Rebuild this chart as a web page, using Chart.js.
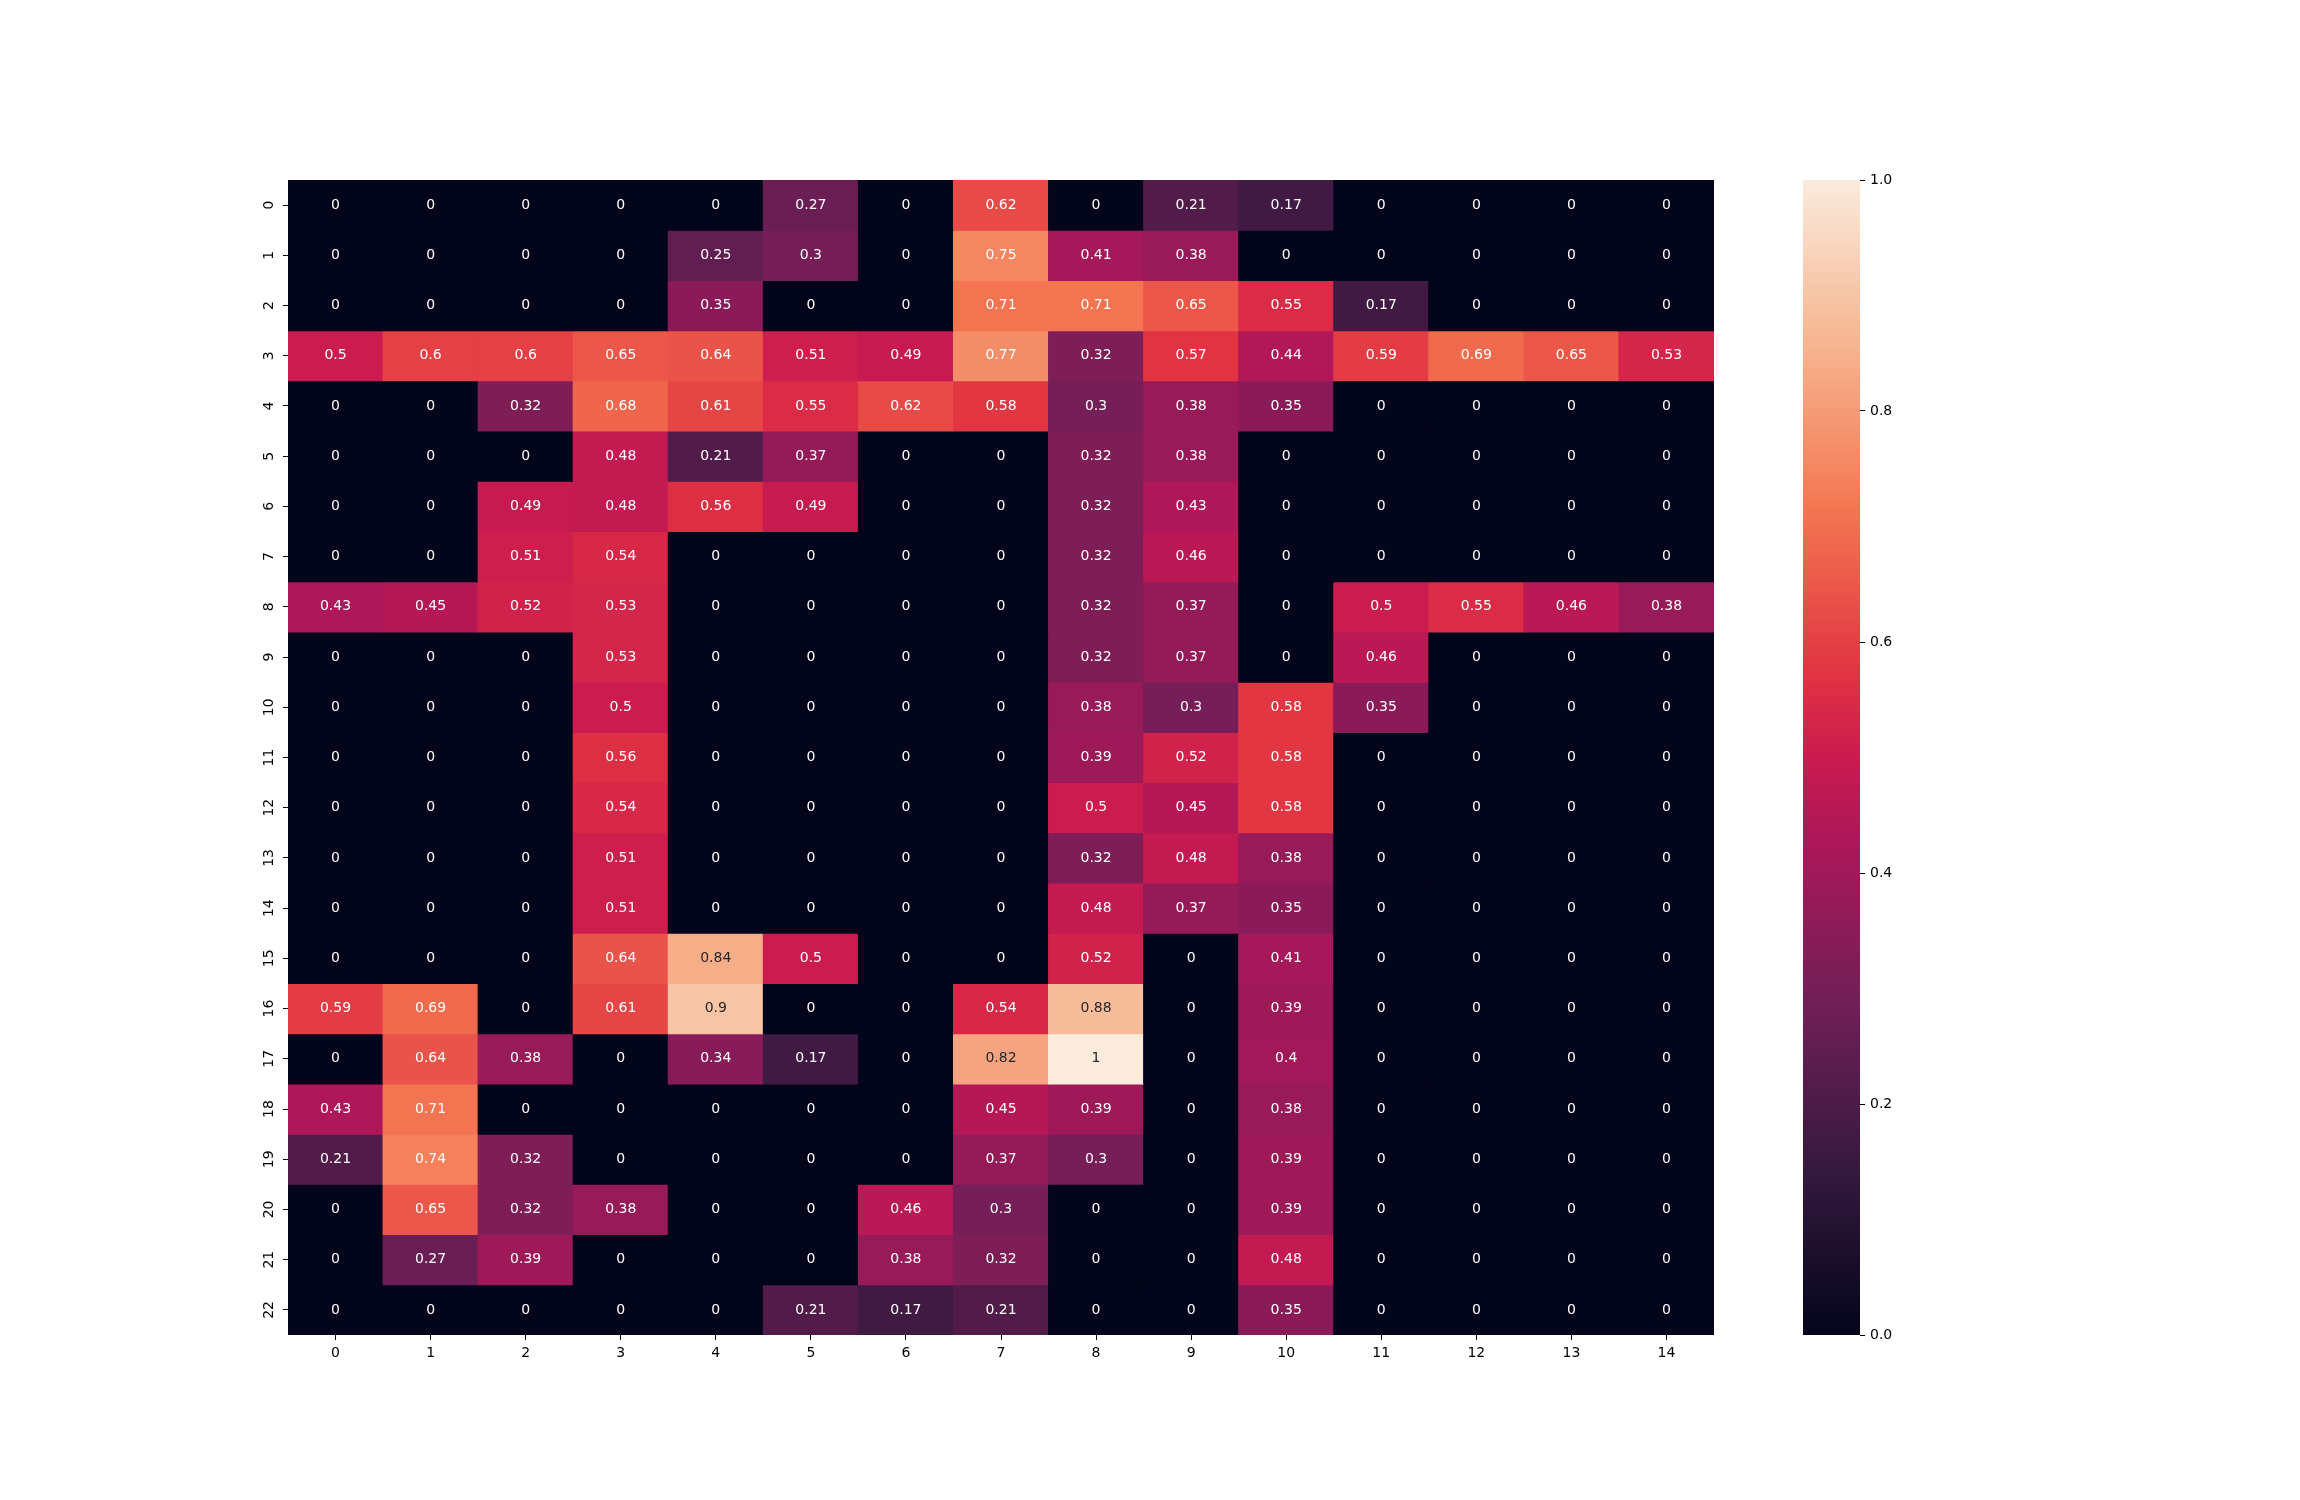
<!DOCTYPE html>
<html>
<head>
<meta charset="utf-8">
<script src="https://cdn.jsdelivr.net/npm/chart.js@4"></script>
<style>
    html, body { margin: 0; padding: 0; background: #fff; }
    #wrap { position: relative; width: 2300px; height: 1500px; }
    #heat { position: absolute; left: 0; top: 0; }
    #cbar { position: absolute; left: 1803px; top: 0; }
</style>
</head>
<body>
<div id="wrap">
    <canvas id="heat" width="2300" height="1500"></canvas>
    <canvas id="cbar" width="140" height="1500"></canvas>
</div>
<script>
// ========== Datos ==========

const rowLabels = ['0','1','2','3','4','5','6','7','8','9','10','11','12','13','14','15','16','17','18','19','20','21','22'];
const colLabels = ['0','1','2','3','4','5','6','7','8','9','10','11','12','13','14'];
const cbarTicks = [0, 0.2, 0.4, 0.6, 0.8, 1.0];

const values = [
    [0, 0, 0, 0, 0, 0.27, 0, 0.62, 0, 0.21, 0.17, 0, 0, 0, 0],
    [0, 0, 0, 0, 0.25, 0.3, 0, 0.75, 0.41, 0.38, 0, 0, 0, 0, 0],
    [0, 0, 0, 0, 0.35, 0, 0, 0.71, 0.71, 0.65, 0.55, 0.17, 0, 0, 0],
    [0.5, 0.6, 0.6, 0.65, 0.64, 0.51, 0.49, 0.77, 0.32, 0.57, 0.44, 0.59, 0.69, 0.65, 0.53],
    [0, 0, 0.32, 0.68, 0.61, 0.55, 0.62, 0.58, 0.3, 0.38, 0.35, 0, 0, 0, 0],
    [0, 0, 0, 0.48, 0.21, 0.37, 0, 0, 0.32, 0.38, 0, 0, 0, 0, 0],
    [0, 0, 0.49, 0.48, 0.56, 0.49, 0, 0, 0.32, 0.43, 0, 0, 0, 0, 0],
    [0, 0, 0.51, 0.54, 0, 0, 0, 0, 0.32, 0.46, 0, 0, 0, 0, 0],
    [0.43, 0.45, 0.52, 0.53, 0, 0, 0, 0, 0.32, 0.37, 0, 0.5, 0.55, 0.46, 0.38],
    [0, 0, 0, 0.53, 0, 0, 0, 0, 0.32, 0.37, 0, 0.46, 0, 0, 0],
    [0, 0, 0, 0.5, 0, 0, 0, 0, 0.38, 0.3, 0.58, 0.35, 0, 0, 0],
    [0, 0, 0, 0.56, 0, 0, 0, 0, 0.39, 0.52, 0.58, 0, 0, 0, 0],
    [0, 0, 0, 0.54, 0, 0, 0, 0, 0.5, 0.45, 0.58, 0, 0, 0, 0],
    [0, 0, 0, 0.51, 0, 0, 0, 0, 0.32, 0.48, 0.38, 0, 0, 0, 0],
    [0, 0, 0, 0.51, 0, 0, 0, 0, 0.48, 0.37, 0.35, 0, 0, 0, 0],
    [0, 0, 0, 0.64, 0.84, 0.5, 0, 0, 0.52, 0, 0.41, 0, 0, 0, 0],
    [0.59, 0.69, 0, 0.61, 0.9, 0, 0, 0.54, 0.88, 0, 0.39, 0, 0, 0, 0],
    [0, 0.64, 0.38, 0, 0.34, 0.17, 0, 0.82, 1, 0, 0.4, 0, 0, 0, 0],
    [0.43, 0.71, 0, 0, 0, 0, 0, 0.45, 0.39, 0, 0.38, 0, 0, 0, 0],
    [0.21, 0.74, 0.32, 0, 0, 0, 0, 0.37, 0.3, 0, 0.39, 0, 0, 0, 0],
    [0, 0.65, 0.32, 0.38, 0, 0, 0.46, 0.3, 0, 0, 0.39, 0, 0, 0, 0],
    [0, 0.27, 0.39, 0, 0, 0, 0.38, 0.32, 0, 0, 0.48, 0, 0, 0, 0],
    [0, 0, 0, 0, 0, 0.21, 0.17, 0.21, 0, 0, 0.35, 0, 0, 0, 0],
];

// ========== Mapa de color "rocket" ==========

const rocketStops = [
    [0,     [3, 5, 26]],
    [1 / 7, [53, 25, 62]],
    [2 / 7, [112, 31, 87]],
    [3 / 7, [173, 23, 89]],
    [0.5,   [203, 27, 79]],
    [4 / 7, [225, 51, 66]],
    [5 / 7, [243, 118, 81]],
    [6 / 7, [246, 180, 143]],
    [1,     [250, 235, 221]],
];

function rocketRGB(v) {
    v = Math.max(0, Math.min(1, v));
    for (let i = 1; i < rocketStops.length; i++) {
        const [p1, c1] = rocketStops[i];
        const [p0, c0] = rocketStops[i - 1];
        if (v <= p1) {
            const t = (v - p0) / (p1 - p0);
            return c0.map((c, k) => Math.round(c + (c1[k] - c) * t));
        }
    }
    return rocketStops[rocketStops.length - 1][1];
}

const rocket = v => `rgb(${rocketRGB(v).join(',')})`;

// mismo criterio que seaborn para el color del texto
function luminancia(rgb) {
    const lin = rgb.map(c => {
        c /= 255;
        return c <= 0.03928 ? c / 12.92 : Math.pow((c + 0.055) / 1.055, 2.4);
    });
    return 0.2126 * lin[0] + 0.7152 * lin[1] + 0.0722 * lin[2];
}

const fmt = v => String(Number(v.toPrecision(2)));

Chart.defaults.font.family = 'DejaVu Sans';
Chart.defaults.font.size = 14;
Chart.defaults.color = '#000';

// ========== Plugin: anotaciones ==========

const anotaciones = {
    id: 'anotaciones',
    afterDatasetsDraw(chart) {
        const { ctx, scales: { x, y } } = chart;
        ctx.save();
        ctx.font = '14px "DejaVu Sans"';
        ctx.textAlign = 'center';
        ctx.textBaseline = 'middle';
        values.forEach((row, r) => {
            row.forEach((v, c) => {
                ctx.fillStyle = luminancia(rocketRGB(v)) > 0.408 ? '#262626' : '#fff';
                ctx.fillText(fmt(v), x.getPixelForValue(c), y.getPixelForValue(r + 0.5));
            });
        });
        ctx.restore();
    }
};

const ejeGrid = { drawOnChartArea: false, drawTicks: true, tickLength: 5, color: '#000', lineWidth: 1, offset: false };

// ========== Heatmap ==========

new Chart(document.getElementById('heat'), {
    type: 'bar',
    data: {
        labels: colLabels,
        datasets: values.map((row, r) => ({
            label: rowLabels[r],
            data: row.map(() => 1),
            backgroundColor: row.map(v => rocket(v)),
            borderWidth: 0,
            inflateAmount: 0.5,
            barPercentage: 1,
            categoryPercentage: 1,
        }))
    },
    options: {
        responsive: false,
        animation: false,
        devicePixelRatio: 1,
        layout: { padding: { left: 248, top: 180, right: 586, bottom: 125 } },
        plugins: { legend: { display: false }, tooltip: { enabled: false } },
        scales: {
            x: {
                stacked: true,
                offset: true,
                border: { display: false },
                grid: ejeGrid,
                ticks: { padding: 5, maxRotation: 0, autoSkip: false },
                afterFit: s => { s.height = 40; }
            },
            y: {
                type: 'linear',
                stacked: true,
                reverse: true,
                min: 0,
                max: rowLabels.length,
                border: { display: false },
                grid: ejeGrid,
                afterBuildTicks: s => { s.ticks = rowLabels.map((_, i) => ({ value: i + 0.5 })); },
                ticks: {
                    autoSkip: false,
                    minRotation: 90,
                    maxRotation: 90,
                    crossAlign: 'center',
                    padding: 5,
                    callback: (v, i) => rowLabels[i]
                },
                afterFit: s => { s.width = 40; }
            }
        }
    },
    plugins: [anotaciones]
});

// ========== Barra de color ==========

const gradiente = {
    id: 'gradiente',
    beforeDatasetsDraw(chart) {
        const { ctx, chartArea: a, scales: { y } } = chart;
        const y0 = y.getPixelForValue(0), y1 = y.getPixelForValue(1);
        const g = ctx.createLinearGradient(0, y0, 0, y1);
        for (let i = 0; i <= 100; i++) g.addColorStop(i / 100, rocket(i / 100));
        ctx.save();
        ctx.fillStyle = g;
        ctx.fillRect(a.left, y1, a.right - a.left, y0 - y1);
        ctx.restore();
    }
};

new Chart(document.getElementById('cbar'), {
    type: 'scatter',
    data: { datasets: [{ data: [] }] },
    options: {
        responsive: false,
        animation: false,
        devicePixelRatio: 1,
        layout: { padding: { left: 0, top: 180, right: 33, bottom: 165 } },
        plugins: { legend: { display: false }, tooltip: { enabled: false } },
        scales: {
            x: { display: false, min: 0, max: 1 },
            y: {
                position: 'right',
                min: 0,
                max: 1,
                border: { display: false },
                grid: { drawOnChartArea: false, drawTicks: true, tickLength: 5, color: '#000', lineWidth: 1 },
                afterBuildTicks: s => { s.ticks = cbarTicks.map(v => ({ value: v })); },
                ticks: { padding: 5, callback: v => v.toFixed(1) },
                afterFit: s => { s.width = 50; }
            }
        }
    },
    plugins: [gradiente]
});
</script>
</body>
</html>
